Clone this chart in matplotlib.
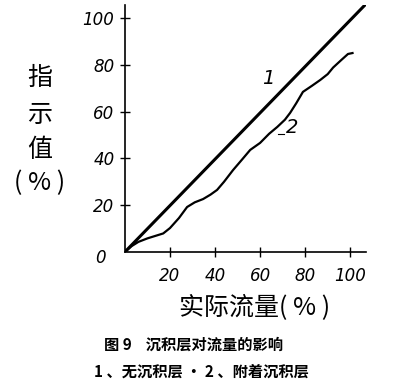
import matplotlib
matplotlib.use('Agg')
from matplotlib import pyplot as plt

plt.rcParams['font.family'] = ['Noto Sans CJK SC', 'DejaVu Sans']

# curve 1: no sediment layer (straight line)
x1 = [0, 107]
y1 = [0, 106]
# curve 2: with sediment layer
x2 = [0, 3, 6, 10, 14, 17, 20, 24, 27.6, 31, 34.7, 38, 40.9, 44, 48, 52, 55.6, 60,
      64, 67.6, 71, 73.3, 76, 79, 83, 86.7, 90, 92.4, 96, 99, 101]
y2 = [0, 2.5, 4.3, 5.8, 7.0, 7.9, 10.2, 14.5, 19.2, 21.2, 22.6, 24.5, 26.5, 30, 35, 39.5, 43.6, 46.6,
      50.5, 53.4, 56.5, 59.4, 63.5, 68.4, 71, 73.5, 76, 78.8, 82, 84.6, 85]
ticks = [20, 40, 60, 80, 100]

fig = plt.figure(figsize=(3.94, 3.90), dpi=100)
ax = fig.add_axes([0.317, 0.354, 0.612, 0.633])
ax.plot(x1, y1, color='black', lw=2.2)
ax.plot(x2, y2, color='black', lw=1.6)

ax.set_xlim(0, 107)
ax.set_ylim(0, 105.5)
for s in ['top', 'right']:
    ax.spines[s].set_visible(False)
ax.spines['left'].set_linewidth(1.2)
ax.spines['bottom'].set_linewidth(1.2)
ax.set_xticks(ticks)
ax.set_yticks(ticks)
ax.set_xticklabels([str(t) for t in ticks], fontsize=12, style='italic', family='DejaVu Sans')
ax.set_yticklabels([str(t) for t in ticks], fontsize=12, style='italic', family='DejaVu Sans')
ax.tick_params(direction='inout', length=7, width=1, pad=4)
ax.tick_params(axis='x', pad=7)
ax.text(-11, -2.6, '0', fontsize=12, style='italic', ha='center', va='center',
        clip_on=False, family='DejaVu Sans')

ax.text(63.5, 74, '1', fontsize=14, style='italic', ha='center', va='center', family='DejaVu Sans')
ax.text(74, 53, '2', fontsize=14, style='italic', ha='center', va='center', family='DejaVu Sans')
ax.plot([68, 70.5], [50.5, 50.5], color='black', lw=0.8)

for ch, yy in zip(['指', '示', '值', '( % )'], [0.80, 0.705, 0.615, 0.53]):
    fig.text(0.10, yy, ch, fontsize=18, ha='center', va='center', weight='light')

fig.text(0.647, 0.21, '实际流量( % )', fontsize=18, ha='center', va='center', weight='light')
fig.text(0.49, 0.115, '图 9    沉积层对流量的影响', fontsize=11, ha='center', va='center',
         weight='bold')
fig.text(0.51, 0.046, '1 、无沉积层 · 2 、附着沉积层', fontsize=11, ha='center', va='center',
         weight='bold')

fig.savefig('out.png', dpi=100)
